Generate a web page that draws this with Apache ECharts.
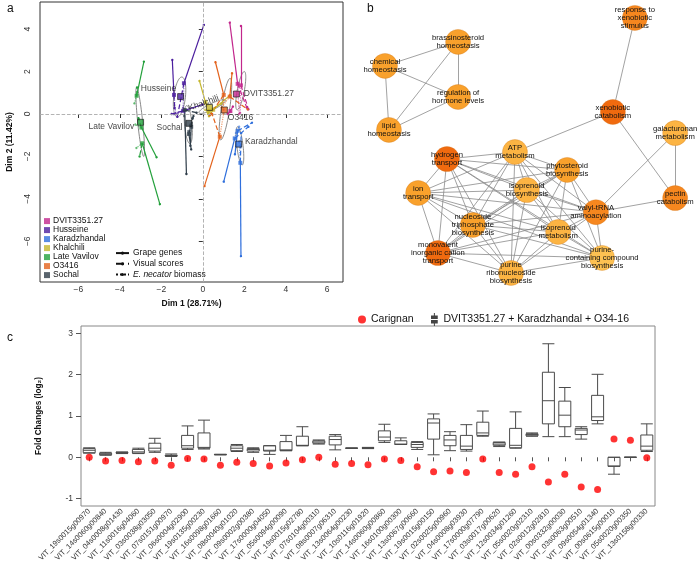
<!DOCTYPE html>
<html><head><meta charset="utf-8">
<script src="https://cdn.jsdelivr.net/npm/echarts@6/dist/echarts.min.js"></script>
<style>html,body{margin:0;padding:0;background:#fff}#c{width:700px;height:572px}</style>
</head><body><div id="c"></div>
<script>
// ================= Panel a : MFA individuals =================
const cultivars = ['DVIT3351.27','Husseine','Karadzhandal','Khalchili','Late Vavilov','O3416','Sochal'];
const centroids = [[1.62,0.94],[-1.07,0.82],[1.73,-1.42],[0.32,0.31],[-3.0,-0.39],[1.04,0.19],[-0.67,-0.44]];
const reps = [
  [[1.68,1.42],[1.84,1.35],[1.33,0.14]],
  [[-1.39,0.90],[-0.91,1.45],[-0.95,0.15]],
  [[1.68,-0.79],[1.54,-1.15],[1.81,-2.30]],
  [[0.13,0.55],[0.50,0.20],[0.30,0.15]],
  [[-3.19,0.86],[-2.96,-0.64],[-2.92,-1.38]],
  [[1.01,0.90],[0.82,-1.07],[1.30,0.82]],
  [[-0.87,0.19],[-0.67,-0.94],[-0.56,-0.60]]
];
const genesPartial = [
  [[1.30,4.31],[1.84,4.15],[1.45,0.35]],
  [[-1.47,2.55],[0.05,4.20],[0.00,0.45]],
  [[1.55,-1.90],[1.01,-3.19],[1.84,-6.70]],
  [[-0.16,1.56],[1.33,0.90],[0.90,0.50]],
  [[-2.84,2.47],[-2.23,-2.04],[-2.07,-4.25]],
  [[0.61,2.44],[0.08,-3.40],[1.41,1.92]],
  [[-0.79,-2.83],[-0.56,-1.67],[-0.60,-1.50]]
];
const visualPartial = [
  [[2.12,0.30],[2.20,0.22],[1.20,0.00]],
  [[-1.36,0.27],[-1.23,-0.13],[-1.50,0.00]],
  [[2.37,-0.41],[2.20,-0.60],[1.85,-0.90]],
  [[0.35,-0.05],[0.30,-0.10],[0.25,0.00]],
  [[-3.17,1.25],[-3.10,-0.20],[-3.05,-2.00]],
  [[0.34,-0.05],[0.45,0.00],[2.16,0.22]],
  [[-0.30,0.06],[-0.50,-0.20],[-0.45,-0.10]]
];
const biomassPartial = [
  [[1.75,0.00],[1.80,0.05],[1.35,0.10]],
  [[-1.30,0.00],[-0.95,0.30],[-1.40,0.00]],
  [[1.75,-0.60],[1.60,-0.90],[1.75,-1.30]],
  [[0.20,0.10],[0.10,0.20],[0.40,0.00]],
  [[-3.30,0.50],[-3.25,-0.50],[-3.20,-1.60]],
  [[1.00,0.20],[1.00,0.00],[0.90,0.30]],
  [[-0.90,-0.10],[-0.70,-0.80],[-0.60,-0.50]]
];
// confidence ellipses: [cx, cy, semi-major, semi-minor, angle of major axis (deg)]
const ellipses = [
  [1.83,1.10,0.92,0.17,79],
  [-1.12,0.80,0.95,0.28,83],
  [1.79,-1.50,0.91,0.15,97],
  [0.45,0.35,0.70,0.15,25],
  [-3.02,-0.37,1.64,0.12,96],
  [1.09,0.23,1.47,0.20,81],
  [-0.70,-0.50,0.90,0.18,95]
];
const dim1Ticks = [-6,-4,-2,0,2,4,6];
const dim2Ticks = [-6,-4,-2,0,2,4];
const groupNames = ['Grape genes','Visual scores','E. necator biomass'];

// ================= Panel b : GO network =================
const goTerms = [
  'response to\nxenobiotic\nstimulus','brassinosteroid\nhomeostasis','chemical\nhomeostasis',
  'regulation of\nhormone levels','lipid\nhomeostasis','xenobiotic\ncatabolism',
  'galacturonan\nmetabolism','ATP\nmetabolism','hydrogen\ntransport',
  'phytosteroid\nbiosynthesis','ion\ntransport','isoprenoid\nbiosynthesis',
  'pectin\ncatabolism','valyl-tRNA\naminoacylation','nucleoside\ntriphosphate\nbiosynthesis',
  'isoprenoid\nmetabolism','monovalent\ninorganic cation\ntransport','purine\nribonucleoside\nbiosynthesis',
  'purine-\ncontaining compound\nbiosynthesis'
];
const goLayoutX = [81.9,32.8,12.5,32.8,13.6,75.8,93.1,48.6,29.7,63.1,21.7,51.9,93.1,71.1,36.9,60.6,27.2,47.5,72.8];
const goLayoutY = [5.6,13.1,20.6,30.3,40.6,35.0,41.6,47.5,49.7,53.1,60.3,59.4,61.9,66.3,70.3,72.5,79.1,85.3,80.6];
const goLevel  = [2,1,1,1,1,3,0,0,3,1,1,0,2,2,1,0,3,0,4];
const goEdgesExtra = [[2,1],[2,3],[2,4],[1,3],[1,4],[3,4],[0,5],[5,7],[5,12],[6,12],[6,13],[12,13]];
const goCluster = [7,8,9,10,11,13,14,15,16,17,18];

// ================= Panel c : fold changes =================
const genes = ['VIT_19s0015g00970','VIT_14s0060g00840','VIT_04s0008g01430','VIT_11s0016g04060','VIT_03s0038g03050',
 'VIT_07s0151g00970','VIT_06s0004g02900','VIT_19s0135g00230','VIT_16s0098g01660','VIT_08s0040g01020',
 'VIT_09s0002g00380','VIT_17s0000g04050','VIT_05s0094g00090','VIT_19s0015g02780','VIT_07s0104g00310',
 'VIT_08s0007g06310','VIT_13s0064g00230','VIT_10s0116g01920','VIT_14s0060g00860','VIT_16s0100g00300',
 'VIT_13s0067g00660','VIT_19s0015g00150','VIT_02s0025g00960','VIT_04s0008g03930','VIT_17s0000g07790',
 'VIT_03s0017g00620','VIT_12s0034g01260','VIT_05s0020g02310','VIT_02s0012g02810','VIT_00s0332g00030',
 'VIT_03s0063g00510','VIT_09s0054g01340','VIT_00s0615g00010','VIT_05s0020g00350','VIT_13s0158g00330'];
const boxMin = [0.10,0.05,0.09,0.09,0.12,0.02,0.19,0.20,0.06,0.14,0.12,0.07,0.16,0.28,0.32,0.18,0.22,0.21,0.36,0.31,0.19,0.06,0.16,0.15,0.51,0.26,0.22,0.51,0.50,0.50,0.44,0.81,-0.41,0.00,0.14];
const boxQ1  = [0.11,0.06,0.10,0.10,0.15,0.03,0.22,0.22,0.06,0.16,0.15,0.15,0.16,0.28,0.34,0.30,0.22,0.22,0.40,0.31,0.24,0.44,0.28,0.19,0.53,0.29,0.23,0.52,0.81,0.74,0.55,0.89,-0.22,0.00,0.17];
const boxMed = [0.17,0.08,0.11,0.13,0.22,0.04,0.28,0.24,0.07,0.22,0.19,0.17,0.18,0.29,0.37,0.43,0.22,0.22,0.49,0.32,0.31,0.83,0.42,0.27,0.59,0.32,0.29,0.55,1.37,1.02,0.66,0.98,-0.21,0.00,0.27];
const boxQ3  = [0.21,0.10,0.12,0.19,0.34,0.05,0.53,0.59,0.07,0.28,0.21,0.28,0.38,0.51,0.40,0.51,0.22,0.23,0.64,0.40,0.36,0.93,0.53,0.53,0.85,0.36,0.70,0.57,2.06,1.36,0.70,1.50,0.00,0.00,0.54];
const boxMax = [0.23,0.12,0.13,0.22,0.46,0.08,0.76,0.90,0.07,0.31,0.23,0.28,0.53,0.74,0.42,0.55,0.22,0.24,0.80,0.47,0.38,1.05,0.62,0.79,1.12,0.37,1.10,0.59,2.75,1.69,0.74,2.01,0.00,0.00,0.81];
const carignan = [0.00,-0.09,-0.08,-0.11,-0.09,-0.19,-0.03,-0.04,-0.19,-0.12,-0.15,-0.21,-0.14,-0.06,0.00,-0.17,-0.15,-0.18,-0.04,-0.08,-0.23,-0.35,-0.33,-0.37,-0.04,-0.37,-0.41,-0.23,-0.60,-0.41,-0.72,-0.78,0.44,0.41,-0.01];
const fcTicks = [-1,0,1,2,3];

// ================= styles =================
const FONT = 'Liberation Sans, Arial, sans-serif';
const cultColors = ['#c2278c','#4b1e9e','#2f6fdc','#c4b62c','#23a03b','#e3621c','#2f3d49'];
const goPalette = ['#fcb443','#f9a12c','#f6871f','#f06a0f','#fdc152'];
const centroidLabel = [
  {position:'right', distance:4},
  {position:'left', distance:1, offset:[0,-8]},
  {position:'right', distance:3, offset:[0,-2]},
  {position:'inside', offset:[-4,-6], rotate:20},
  {position:'left', distance:3, offset:[0,4]},
  {position:'right', distance:0, offset:[0,8]},
  {position:'left', distance:3, offset:[0,4]}
];
const minus = v => String(v).replace('-', '\u2212');

const series = [];
// ellipses
series.push({
  type:'custom', xAxisIndex:0, yAxisIndex:0, silent:true, z:1,
  data: ellipses,
  renderItem: function(params, api){
    const cx=api.value(0), cy=api.value(1), a=api.value(2), b=api.value(3), th=api.value(4)*Math.PI/180;
    const pts=[];
    for(let k=0;k<=72;k++){
      const t=2*Math.PI*k/72;
      const x=cx+a*Math.cos(t)*Math.cos(th)-b*Math.sin(t)*Math.sin(th);
      const y=cy+a*Math.cos(t)*Math.sin(th)+b*Math.sin(t)*Math.cos(th);
      pts.push(api.coord([x,y]));
    }
    return {type:'polyline', shape:{points:pts}, style:{stroke:'#7a7a7a', fill:null, lineWidth:0.9}};
  }
});
const partialSets = [genesPartial, visualPartial, biomassPartial];
const lineTypes = ['solid','dashed','dotted'];
cultivars.forEach((c, ci) => {
  partialSets.forEach((ps, gi) => {
    series.push({
      type:'lines', coordinateSystem:'cartesian2d', xAxisIndex:0, yAxisIndex:0, silent:true, z:2,
      symbol:['none','circle'], symbolSize:2.4,
      lineStyle:{color:cultColors[ci], type:lineTypes[gi], width:1.2, opacity: gi===2?0.65:1},
      data: reps[ci].map((r,i)=>({coords:[r, ps[ci][i]]}))
    });
  });
  series.push({
    type:'scatter', xAxisIndex:0, yAxisIndex:0, silent:true, z:3,
    symbol:'rect', symbolSize:4, itemStyle:{color:cultColors[ci]},
    data: reps[ci]
  });
});
cultivars.forEach((c, ci) => {
  series.push({
    name:c, type:'scatter', xAxisIndex:0, yAxisIndex:0, z:5,
    symbol:'rect', symbolSize:6,
    itemStyle:{color:cultColors[ci], borderColor:'#111', borderWidth:0.8},
    label:Object.assign({show:true, formatter:c, fontSize:8.5, color:'#111', fontFamily:FONT}, centroidLabel[ci]),
    data:[centroids[ci]],
    markLine: ci===0 ? {silent:true, symbol:'none', label:{show:false},
      lineStyle:{type:'dashed', color:'#aaa', width:0.9}, data:[{xAxis:0},{yAxis:0}]} : undefined
  });
});
groupNames.forEach((g, gi) => {
  series.push({name:g, type:'line', xAxisIndex:0, yAxisIndex:0, data:[],
    symbol:'circle', symbolSize:2, itemStyle:{color:'#111'},
    lineStyle:{color:'#111', type:lineTypes[gi], width:1}});
});

// network
const goLinks = goEdgesExtra.map(e=>({source:e[0], target:e[1]}));
for(let i=0;i<goCluster.length;i++) for(let j=i+1;j<goCluster.length;j++) goLinks.push({source:goCluster[i], target:goCluster[j]});
series.push({
  type:'graph', coordinateSystem:'cartesian2d', xAxisIndex:1, yAxisIndex:1, silent:true,
  symbol:'circle', symbolSize:25,
  data: goTerms.map((t,i)=>({name:'n'+i, value:[goLayoutX[i], goLayoutY[i]],
    itemStyle:{color:goPalette[goLevel[i]], borderColor:'rgba(200,110,20,0.5)', borderWidth:0.6},
    label:{formatter:t}})),
  links: goLinks,
  lineStyle:{color:'#8a8a8a', width:0.8, opacity:1},
  label:{show:true, position:'inside', fontSize:7.7, lineHeight:7.9, color:'#111', fontFamily:FONT}
});

// boxplot + carignan
series.push({
  name:'DVIT3351.27 + Karadzhandal + O34-16', type:'boxplot', xAxisIndex:2, yAxisIndex:2,
  boxWidth:[12,12],
  itemStyle:{color:'rgba(255,255,255,0)', borderColor:'#4a4a4a', borderWidth:1},
  data: genes.map((g,i)=>[boxMin[i], boxQ1[i], boxMed[i], boxQ3[i], boxMax[i]])
});
series.push({
  name:'Carignan', type:'scatter', xAxisIndex:2, yAxisIndex:2, z:4,
  symbol:'circle', symbolSize:7, itemStyle:{color:'#ff0000'},
  data: carignan
});

const option = {
  animation:false,
  textStyle:{fontFamily:FONT},
  title:[
    {text:'a', left:2, top:-2, textStyle:{fontSize:12, fontWeight:'normal', color:'#111'}},
    {text:'b', left:362, top:-2, textStyle:{fontSize:12, fontWeight:'normal', color:'#111'}},
    {text:'c', left:2, top:327, textStyle:{fontSize:12, fontWeight:'normal', color:'#111'}}
  ],
  legend:[
    {data:cultivars, orient:'vertical', left:44, top:216.6, padding:0, itemGap:0, itemWidth:6, itemHeight:6, icon:'rect',
      itemStyle:{borderWidth:0}, textStyle:{fontSize:8.5, lineHeight:8.8, color:'#111', padding:[0,0,0,-2]}},
    {data:groupNames, orient:'vertical', left:115, top:248.6, padding:0, itemGap:1.7, itemWidth:13, itemHeight:4,
      textStyle:{fontSize:8.5, lineHeight:8.8, color:'#111', padding:[0,0,0,-1], rich:{i:{fontStyle:'italic', fontSize:8.5, lineHeight:8.8, color:'#111'}}},
      formatter: n => n==='E. necator biomass' ? '{i|E. necator} biomass' : n},
    {data:[{name:'Carignan', icon:'circle'}], left:353, top:309, itemWidth:8, itemHeight:8,
      textStyle:{fontSize:10.5, color:'#111'}},
    {data:[{name:'DVIT3351.27 + Karadzhandal + O34-16',
        icon:'path://M3.4,0h1.2v3h3.4v4.2h-8v-4.2h3.4z M0,8.2h8v4.2h-3.4v3h-1.2v-3h-3.4z',
        itemStyle:{color:'#444', borderWidth:0}}],
      left:426, top:308, itemWidth:8, itemHeight:13, textStyle:{fontSize:10.5, color:'#111'}}
  ],
  grid:[
    {left:40, top:2, width:303, height:280, show:true, borderColor:'#333', borderWidth:1},
    {left:340, top:0, width:360, height:320, show:false},
    {left:81, top:326, width:574, height:180, show:true, borderColor:'#888', borderWidth:1}
  ],
  xAxis:[
    {type:'value', gridIndex:0, min:-7.85, max:6.76, axisLine:{show:false}, splitLine:{show:false},
      axisTick:{show:true, length:4, customValues:dim1Ticks, lineStyle:{color:'#333'}},
      axisLabel:{customValues:dim1Ticks, fontSize:8.5, color:'#333', margin:3, formatter:minus},
      name:'Dim 1 (28.71%)', nameLocation:'middle', nameGap:17,
      nameTextStyle:{fontSize:8.5, fontWeight:'bold', color:'#111'}},
    {type:'value', gridIndex:1, min:0, max:100, show:false},
    {type:'category', gridIndex:2, data:genes, axisLine:{show:false},
      axisTick:{show:true, alignWithLabel:true, interval:0, length:4, lineStyle:{color:'#555'}},
      axisLabel:{interval:0, rotate:45, fontSize:7.5, color:'#333', margin:4}}
  ],
  yAxis:[
    {type:'value', gridIndex:0, min:-7.92, max:5.28, axisLine:{show:false}, splitLine:{show:false},
      axisTick:{show:true, length:4, customValues:dim2Ticks, lineStyle:{color:'#333'}},
      axisLabel:{customValues:dim2Ticks, fontSize:8.5, color:'#333', margin:8, rotate:90, formatter:minus},
      name:'Dim 2 (11.42%)', nameLocation:'middle', nameGap:26, nameRotate:90,
      nameTextStyle:{fontSize:8.5, fontWeight:'bold', color:'#111'}},
    {type:'value', gridIndex:1, min:0, max:100, inverse:true, show:false},
    {type:'value', gridIndex:2, min:-1.18, max:3.18, axisLine:{show:false}, splitLine:{show:false},
      axisTick:{show:true, length:5, customValues:fcTicks, lineStyle:{color:'#555'}},
      axisLabel:{customValues:fcTicks, fontSize:8.5, color:'#333', margin:8},
      name:'Fold Changes (log\u2082)', nameLocation:'middle', nameGap:38, nameRotate:90,
      nameTextStyle:{fontSize:8.2, fontWeight:'bold', color:'#111'}}
  ],
  series: series
};
const chart = echarts.init(document.getElementById('c'), null, {renderer:'canvas'});
chart.setOption(option);
</script></body></html>
